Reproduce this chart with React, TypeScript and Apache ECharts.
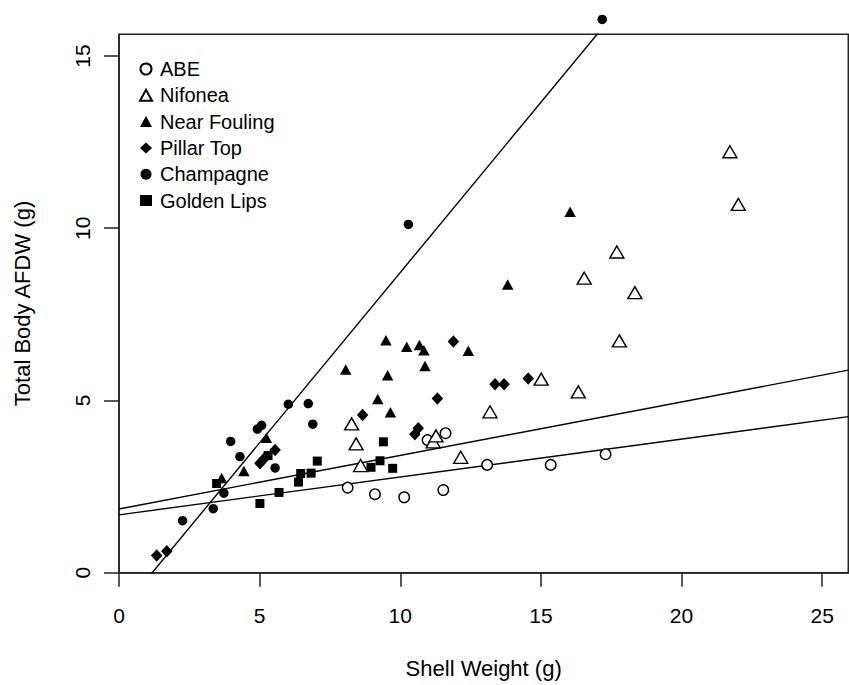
import React, { useEffect, useRef } from "react";
import * as echarts from "echarts";

// Shell weight (g) vs total body ash-free dry weight (g), by site
const abeX = [8.13, 9.1, 10.14, 11.53, 13.09, 15.35, 17.3, 10.97, 11.61];
const abeY = [2.47, 2.28, 2.19, 2.4, 3.13, 3.13, 3.44, 3.85, 4.05];

const nifoneaX = [8.27, 8.43, 8.59, 11.17, 11.27, 12.15, 13.19, 15.01, 16.33, 16.54, 17.7, 17.79, 18.34, 21.72, 22.02];
const nifoneaY = [4.32, 3.74, 3.11, 3.8, 3.97, 3.35, 4.67, 5.62, 5.25, 8.55, 9.31, 6.73, 8.13, 12.22, 10.69];

const nearFoulingX = [3.65, 4.44, 5.24, 8.06, 9.2, 9.49, 9.55, 9.65, 10.23, 10.68, 10.84, 10.88, 12.42, 13.82, 16.04];
const nearFoulingY = [2.75, 2.95, 3.92, 5.9, 5.04, 6.75, 5.73, 4.66, 6.56, 6.61, 6.46, 6.0, 6.44, 8.37, 10.48];

const pillarTopX = [1.34, 1.7, 5.01, 5.15, 5.55, 8.66, 10.52, 10.64, 11.32, 11.89, 13.37, 13.69, 14.55];
const pillarTopY = [0.5, 0.62, 3.18, 3.3, 3.56, 4.58, 4.02, 4.19, 5.06, 6.71, 5.47, 5.47, 5.64];

const champagneX = [2.26, 3.35, 3.73, 3.97, 4.3, 4.92, 5.07, 5.55, 6.02, 6.73, 6.89, 10.29, 17.18];
const champagneY = [1.51, 1.86, 2.31, 3.81, 3.37, 4.17, 4.28, 3.04, 4.89, 4.91, 4.31, 10.11, 16.06];

const goldenLipsX = [3.47, 5.01, 5.3, 5.69, 6.38, 6.46, 6.83, 7.05, 8.96, 9.28, 9.4, 9.73];
const goldenLipsY = [2.59, 2.01, 3.4, 2.33, 2.63, 2.88, 2.89, 3.24, 3.06, 3.25, 3.8, 3.03];

// Fitted regression lines: y = intercept + slope * x
const fitIntercepts = [-1.166, 1.85, 1.68];
const fitSlopes = [0.988, 0.1554, 0.1099];

const xTicks = [0, 5, 10, 15, 20, 25];
const yTicks = [0, 5, 10, 15];
const xMax = 25.93;
const yMax = 15.63;

const FONT = "'Liberation Sans', Arial, Helvetica, sans-serif";
const INK = "#000";
const AXIS = "#222";

const zip = (xs: number[], ys: number[]) => xs.map((x, i) => [x, ys[i]]);

export default function App() {
  const ref = useRef<HTMLDivElement>(null);

  useEffect(() => {
    document.body.style.margin = "0";
    const chart = echarts.init(ref.current!, null, { renderer: "svg" });

    const open = { color: "#fff", borderColor: INK, borderWidth: 1.4, opacity: 1 };
    const filled = { color: INK, borderWidth: 0, opacity: 1 };

    const groups = [
      { name: "ABE", x: abeX, y: abeY, symbol: "circle", size: 10.5, style: open },
      { name: "Nifonea", x: nifoneaX, y: nifoneaY, symbol: "triangle", size: [14, 12], style: open },
      { name: "Near Fouling", x: nearFoulingX, y: nearFoulingY, symbol: "triangle", size: [11.5, 10.5], style: filled },
      { name: "Pillar Top", x: pillarTopX, y: pillarTopY, symbol: "diamond", size: [11.5, 12.5], style: filled },
      { name: "Champagne", x: champagneX, y: champagneY, symbol: "circle", size: 9.5, style: filled },
      { name: "Golden Lips", x: goldenLipsX, y: goldenLipsY, symbol: "rect", size: 9, style: filled },
    ];

    const scatterSeries = groups.map((g) => ({
      type: "scatter",
      name: g.name,
      data: zip(g.x, g.y),
      symbol: g.symbol,
      symbolSize: g.size,
      itemStyle: g.style,
      clip: false,
      z: 3,
    }));

    const lineSeries = fitIntercepts.map((b, i) => ({
      type: "line",
      name: "fit" + i,
      data: [
        [0, b],
        [xMax, b + fitSlopes[i] * xMax],
      ],
      showSymbol: false,
      symbol: "none",
      clip: true,
      lineStyle: { color: INK, width: 1.4 },
      z: 2,
    }));

    chart.setOption({
      animation: false,
      backgroundColor: "#fff",
      grid: {
        left: 119,
        top: 34.3,
        width: 729.3,
        height: 538.4,
        show: true,
        borderColor: AXIS,
        borderWidth: 1.5,
        containLabel: false,
        outerBoundsMode: "none",
      },
      legend: {
        orient: "vertical",
        left: 139,
        top: 59,
        padding: 0,
        itemWidth: 12,
        itemHeight: 11,
        itemGap: 6.3,
        data: groups.map((g) => g.name),
        textStyle: { fontFamily: FONT, fontSize: 20, color: INK, lineHeight: 20, padding: [0, 0, 0, 3] },
      },
      xAxis: {
        type: "value",
        min: 0,
        max: xMax,
        interval: 5,
        name: "Shell Weight (g)",
        nameLocation: "middle",
        nameGap: 85,
        nameTextStyle: { fontFamily: FONT, fontSize: 22, color: INK },
        axisLine: { show: true, onZero: false, lineStyle: { color: AXIS, width: 1.5 } },
        axisTick: { show: true, length: 14, customValues: xTicks, lineStyle: { color: AXIS, width: 1.5 } },
        axisLabel: { customValues: xTicks, fontFamily: FONT, fontSize: 21, color: INK, margin: 32 },
        splitLine: { show: false },
      },
      yAxis: {
        type: "value",
        min: 0,
        max: yMax,
        interval: 5,
        name: "Total Body AFDW (g)",
        nameLocation: "middle",
        nameRotate: 90,
        nameGap: 86,
        nameTextStyle: { fontFamily: FONT, fontSize: 22, color: INK },
        axisLine: { show: true, onZero: false, lineStyle: { color: AXIS, width: 1.5 } },
        axisTick: { show: true, length: 15, customValues: yTicks, lineStyle: { color: AXIS, width: 1.5 } },
        axisLabel: { customValues: yTicks, rotate: 90, fontFamily: FONT, fontSize: 21, color: INK, margin: 26 },
        splitLine: { show: false },
      },
      series: [...lineSeries, ...scatterSeries],
    });

    return () => chart.dispose();
  }, []);

  return <div ref={ref} style={{ width: 849, height: 685 }} />;
}
